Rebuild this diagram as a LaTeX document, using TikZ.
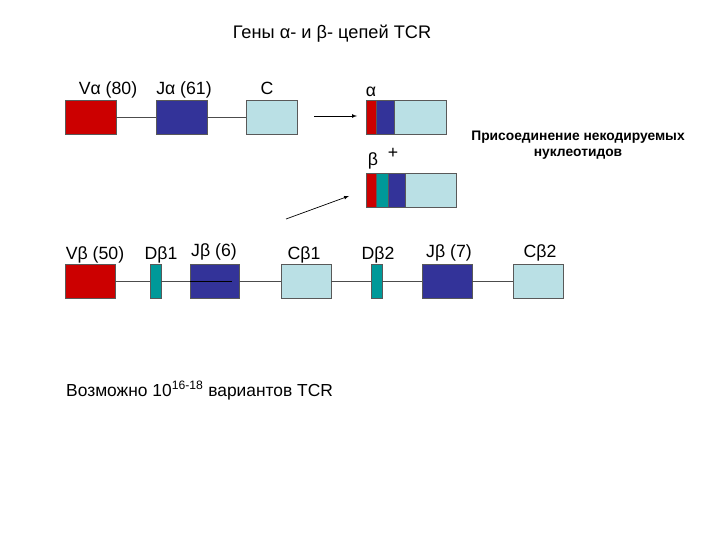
\documentclass[tikz,border=0pt]{standalone}
\usepackage{fontspec}
\setmainfont{Liberation Sans}
\begin{document}
\begin{tikzpicture}[x=1pt,y=-1pt,
  seg/.style={draw=black!65,line width=0.6pt,inner sep=0pt,outer sep=0pt,anchor=north west,minimum height=34pt},
  vseg/.style={seg,fill=vred},
  jseg/.style={seg,fill=jblue},
  cseg/.style={seg,fill=clight},
  dseg/.style={seg,fill=dteal},
  lbl/.style={anchor=base,inner sep=0pt,font=\fontsize{17.7}{20}\selectfont},
  link/.style={draw=black!70,line width=0.7pt},
  arr/.style={draw=black,line width=0.7pt,-latex}]
\definecolor{vred}{HTML}{CC0000}
\definecolor{jblue}{HTML}{333399}
\definecolor{clight}{HTML}{BAE0E5}
\definecolor{dteal}{HTML}{009999}
\useasboundingbox (0,0) rectangle (720,540);
% title
\node[lbl,font=\fontsize{18.2}{21}\selectfont] (title) at (332,39) {Гены α- и β- цепей TCR};
% alpha germline
\node[vseg,minimum width=51pt] (va) at (65,100) {};
\node[jseg,minimum width=51pt] (ja) at (156,100) {};
\node[cseg,minimum width=51pt] (ca) at (246,100) {};
\draw[link] (va.east) -- (ja.west);
\draw[link] (ja.east) -- (ca.west);
\node[lbl] (lva) at (108,95) {Vα (80)};
\node[lbl] (lja) at (184,95) {Jα (61)};
\node[lbl] (lca) at (267,95) {C};
% alpha rearranged
\node[vseg,minimum width=10pt] (ra1) at (366,100) {};
\node[jseg,minimum width=18pt] (ra2) at (376,100) {};
\node[cseg,minimum width=52pt] (ra3) at (394,100) {};
\node[lbl] (lalpha) at (371,97) {α};
\coordinate (a1s) at (314,116);
\coordinate (a1e) at (357,116);
\draw[arr] (a1s) -- (a1e);
% beta rearranged
\node[vseg,minimum width=10pt] (rb1) at (366,173) {};
\node[dseg,minimum width=12pt] (rb2) at (376,173) {};
\node[jseg,minimum width=17pt] (rb3) at (388,173) {};
\node[cseg,minimum width=51pt] (rb4) at (405,173) {};
\node[lbl] (lbeta) at (373,166) {β};
\node[lbl] (lplus) at (393,159) {+};
\coordinate (a2s) at (286,219);
\coordinate (a2e) at (349,196);
\draw[arr] (a2s) -- (a2e);
\node[anchor=base,inner sep=0pt,align=center,font=\bfseries\fontsize{13.8}{16.5}\selectfont] (note) at (578,157) {Присоединение некодируемых\\нуклеотидов};
% beta germline
\node[vseg,minimum width=50pt] (vb) at (65,264) {};
\node[dseg,minimum width=11pt] (db1) at (150,264) {};
\node[jseg,minimum width=49pt] (jb6) at (190,264) {};
\node[cseg,minimum width=50pt] (cb1) at (281,264) {};
\node[dseg,minimum width=11pt] (db2) at (371,264) {};
\node[jseg,minimum width=50pt] (jb7) at (422,264) {};
\node[cseg,minimum width=50pt] (cb2) at (513,264) {};
\draw[link] (vb.east) -- (db1.west);
\draw[link] (db1.east) -- (jb6.west);
\coordinate (jb6in) at (232,281);
\draw[link,draw=black] (jb6.west) -- (jb6in);
\draw[link] (jb6.east) -- (cb1.west);
\draw[link] (cb1.east) -- (db2.west);
\draw[link] (db2.east) -- (jb7.west);
\draw[link] (jb7.east) -- (cb2.west);
\node[lbl] (lvb) at (95,259) {Vβ (50)};
\node[lbl] (ldb1) at (161,259) {Dβ1};
\node[lbl] (ljb6) at (214,256) {Jβ (6)};
\node[lbl] (lcb1) at (304,259) {Cβ1};
\node[lbl] (ldb2) at (378,259) {Dβ2};
\node[lbl] (ljb7) at (449,258) {Jβ (7)};
\node[lbl] (lcb2) at (540,258) {Cβ2};
% bottom
\node[anchor=base west,inner sep=0pt,font=\fontsize{17.4}{20}\selectfont] (poss) at (66,396) {Возможно 10\textsuperscript{16-18} вариантов TCR};
\end{tikzpicture}
\end{document}
